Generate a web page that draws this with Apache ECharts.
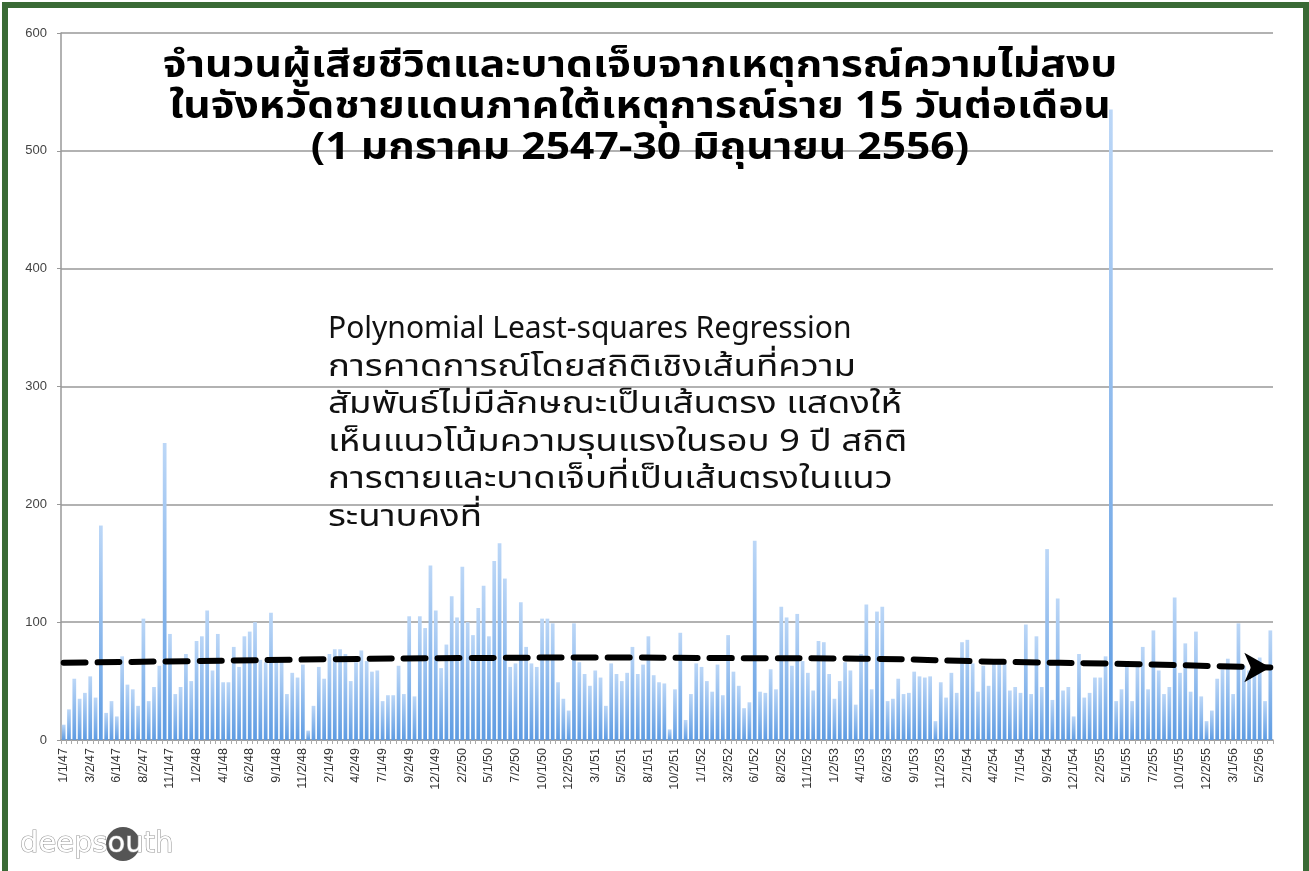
<!DOCTYPE html>
<html>
<head>
<meta charset="utf-8">
<script src="https://cdn.jsdelivr.net/npm/echarts@6/dist/echarts.min.js"></script>
<style>
    html, body { margin: 0; padding: 0; background: #fff; }
    #chart { width: 1309px; height: 871px; }
    #frame {
        position: absolute; left: 2px; top: 2px; width: 1295px; height: 880px;
        border: 6px solid #3a6a35; border-bottom: none; pointer-events: none;
    }
</style>
</head>
<body>
<div id="chart"></div>
<div id="frame"></div>
<script>
// half-month periods, 1/1/47 .. 6/2/56 (month/half/Buddhist year)
const years = [47, 48, 49, 50, 51, 52, 53, 54, 55, 56];
const halves = [1, 2];
const periodCount = 228;

// casualties per half-month
const casualties = [
    13, 26, 52, 35, 40, 54, 36, 182, 23, 33, 20, 71, 47, 43, 29, 103, 33, 45, 63, 252,
    90, 39, 45, 73, 50, 84, 88, 110, 59, 90, 49, 49, 79, 62, 88, 92, 100, 68, 66, 108,
    69, 68, 39, 57, 53, 64, 8, 29, 62, 52, 73, 77, 77, 73, 50, 66, 76, 67, 58, 59,
    33, 38, 38, 63, 39, 105, 37, 105, 95, 148, 110, 61, 81, 122, 104, 147, 100, 89, 112, 131,
    88, 152, 167, 137, 62, 65, 117, 79, 65, 62, 103, 103, 99, 49, 35, 25, 99, 66, 56, 46,
    59, 53, 29, 65, 56, 50, 57, 79, 56, 64, 88, 55, 49, 48, 9, 43, 91, 17, 39, 65,
    62, 50, 41, 64, 38, 89, 58, 46, 27, 32, 169, 41, 40, 60, 43, 113, 104, 63, 107, 67,
    57, 42, 84, 83, 56, 35, 50, 66, 59, 30, 73, 115, 43, 109, 113, 33, 35, 52, 39, 40,
    58, 54, 53, 54, 16, 49, 36, 57, 40, 83, 85, 65, 41, 63, 46, 66, 66, 65, 42, 45,
    40, 98, 39, 88, 45, 162, 34, 120, 42, 45, 20, 73, 36, 40, 53, 53, 71, 535, 33, 43,
    67, 33, 63, 79, 43, 93, 59, 39, 45, 121, 57, 82, 41, 92, 37, 16, 25, 52, 60, 69,
    39, 99, 63, 59, 66, 70, 33, 93,
];

// polynomial trend, read at a few periods
const trendIdx = [0, 25, 50, 75, 100, 125, 150, 175, 200, 227];
const trendVals = [65.5, 67, 68.5, 69.5, 70, 69.5, 69, 66.5, 64.5, 61.5];

const titleLines = [
    'จำนวนผู้เสียชีวิตและบาดเจ็บจากเหตุการณ์ความไม่สงบ',
    'ในจังหวัดชายแดนภาคใต้เหตุการณ์ราย 15 วันต่อเดือน',
    '(1 มกราคม 2547-30 มิถุนายน 2556)',
];
const noteLines = [
    'Polynomial Least-squares Regression',
    'การคาดการณ์โดยสถิติเชิงเส้นที่ความ',
    'สัมพันธ์ไม่มีลักษณะเป็นเส้นตรง แสดงให้',
    'เห็นแนวโน้มความรุนแรงในรอบ 9 ปี สถิติ',
    'การตายและบาดเจ็บที่เป็นเส้นตรงในแนว',
    'ระนาบคงที่',
];

const categories = [];
years.forEach(y => {
    for (let m = 1; m <= 12; m++) {
        halves.forEach(h => {
            if (categories.length < periodCount) categories.push(`${m}/${h}/${y}`);
        });
    }
});

const trendData = categories.map(() => null);
trendIdx.forEach((idx, k) => { trendData[idx] = trendVals[k]; });
const lastIdx = trendIdx[trendIdx.length - 1];
const lastVal = trendVals[trendVals.length - 1];

const thaiFont = "'Noto Sans Thai', Tahoma, 'DejaVu Sans', sans-serif";
const isThai = s => /[\u0E00-\u0E7F]/.test(s);

const chart = echarts.init(document.getElementById('chart'));
chart.setOption({
    animation: false,
    backgroundColor: '#fff',
    grid: { left: 61, right: 36, top: 33, bottom: 131 },
    xAxis: {
        type: 'category',
        data: categories,
        boundaryGap: true,
        axisLine: { lineStyle: { color: '#999', width: 1.5 } },
        axisTick: { show: true, interval: 0, length: 4, lineStyle: { color: '#aaa' } },
        axisLabel: {
            interval: 4, rotate: 90, fontSize: 12.5, color: '#333',
            fontFamily: "'Liberation Sans', Arial, sans-serif", margin: 8,
        },
    },
    yAxis: {
        type: 'value', min: 0, max: 600, interval: 100,
        axisLine: { show: true, lineStyle: { color: '#999', width: 1.5 } },
        axisTick: { show: true, length: 4, lineStyle: { color: '#999' } },
        axisLabel: { fontSize: 13, color: '#444', margin: 14 },
        splitLine: { lineStyle: { color: '#999', width: 1.5 } },
    },
    series: [
        {
            type: 'bar',
            data: casualties,
            barCategoryGap: '30%',
            itemStyle: {
                color: new echarts.graphic.LinearGradient(0, 0, 0, 1, [
                    { offset: 0, color: '#bcd7f7' },
                    { offset: 1, color: '#5d9be2' },
                ]),
            },
            z: 2,
        },
        {
            type: 'line',
            data: trendData,
            connectNulls: true,
            smooth: true,
            showSymbol: false,
            lineStyle: { color: '#000', width: 6, type: [22, 12], cap: 'round' },
            z: 5,
        },
        {
            type: 'scatter',
            data: [[lastIdx, lastVal]],
            symbol: 'arrow',
            symbolSize: [22, 26],
            symbolRotate: -90,
            itemStyle: { color: '#000', opacity: 1 },
            z: 6,
        },
    ],
    graphic: [
        ...titleLines.map((t, k) => ({
            type: 'text', x: 640, y: 69 + k * 41, scaleX: 1.12, z: 10,
            style: {
                text: t, x: 0, y: 0, align: 'center', verticalAlign: 'middle',
                font: `bold 38px ${thaiFont}`, fill: '#000',
            },
        })),
        ...noteLines.map((t, k) => ({
            type: 'text', x: 328, y: 332 + k * 37.6, scaleX: isThai(t) ? 1.22 : 1, z: 10,
            style: {
                text: t, x: 0, y: 0, align: 'left', verticalAlign: 'middle',
                font: `30px ${thaiFont}`, fill: '#111',
            },
        })),
        {
            type: 'circle', shape: { cx: 123, cy: 844, r: 17 }, z: 10,
            style: { fill: '#555' },
        },
        {
            type: 'text', x: 20, y: 844, z: 11,
            style: {
                text: 'deepsouth', x: 0, y: 0, verticalAlign: 'middle',
                font: "29px 'DejaVu Sans', sans-serif",
                fill: '#fff', stroke: '#999', lineWidth: 1.2,
            },
        },
    ],
});
</script>
</body>
</html>
